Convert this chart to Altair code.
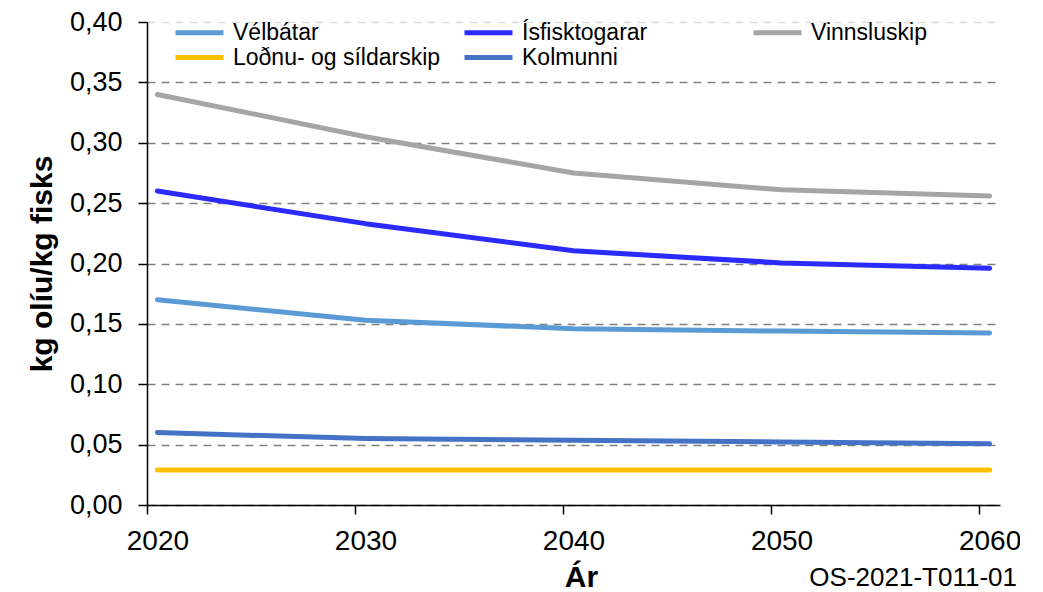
import altair as alt
import pandas as pd

# ---- data ----
years = [2020, 2030, 2040, 2050, 2060]
velbatar = [0.170, 0.153, 0.146, 0.144, 0.1425]
isfisktogarar = [0.260, 0.233, 0.2105, 0.2005, 0.196]
vinnsluskip = [0.340, 0.305, 0.275, 0.261, 0.256]
lodnu = [0.029, 0.029, 0.029, 0.029, 0.029]
kolmunni = [0.060, 0.055, 0.0536, 0.0522, 0.0508]

series_names = ["Vélbátar", "Ísfisktogarar", "Vinnsluskip", "Loðnu- og síldarskip", "Kolmunni"]
series_values = [velbatar, isfisktogarar, vinnsluskip, lodnu, kolmunni]
colors = ["#5B9BD5", "#2B2BFF", "#A5A5A5", "#FFC000", "#4472C4"]

y_ticks = [0.0, 0.05, 0.10, 0.15, 0.20, 0.25, 0.30, 0.35, 0.40]
x_ticks = [2020, 2030, 2040, 2050, 2060]
x_title = "Ár"
y_title = "kg olíu/kg fisks"
code_label = "OS-2021-T011-01"

rows = []
for name, vals in zip(series_names, series_values):
    for yr, v in zip(years, vals):
        rows.append({"series": name, "year": yr, "value": v, "order": series_names.index(name)})
df = pd.DataFrame(rows)

FONT = "Liberation Sans"
W, H = 853, 483
half_cat = W / 41 / 2

lines = alt.Chart(df).mark_line(strokeWidth=5, strokeCap="round", strokeJoin="round").encode(
    x=alt.X(
        "year:Q",
        scale=alt.Scale(domain=[2019.5, 2060.5], nice=False, zero=False),
        axis=alt.Axis(
            values=x_ticks, format="d", grid=False,
            tickSize=9, tickWidth=1.5, tickColor="black",
            domainColor="black", domainWidth=1.5,
            tickOffset=-half_cat, labelOffset=half_cat,
            labelFlush=False, labelOverlap=False,
            labelFontSize=28, labelColor="black", labelPadding=13,
            title=x_title, titleFontSize=30, titleFontWeight="bold", titleColor="black",
            titleX=434, titleY=72, titleBaseline="middle", titleAlign="center",
        ),
    ),
    y=alt.Y(
        "value:Q",
        scale=alt.Scale(domain=[0, 0.4], nice=False),
        axis=alt.Axis(
            values=y_ticks,
            labelExpr="replace(format(datum.value, '.2f'), '.', ',')",
            tickSize=9, tickWidth=1.5, tickColor="black",
            domainColor="black", domainWidth=1.5,
            labelFontSize=27, labelColor="black", labelPadding=16,
            grid=True, gridDash=[8, 6], gridWidth=1.5,
            gridColor={"condition": {"test": "datum.value >= 0.39", "value": "#dcdcdc"}, "value": "#808080"},
            title=y_title, titleFontSize=30, titleFontWeight="bold", titleColor="black",
            titleX=-105, titleY=H / 2, titleAngle=270, titleBaseline="middle", titleAlign="center",
        ),
    ),
    color=alt.Color(
        "series:N",
        sort=series_names,
        scale=alt.Scale(domain=series_names, range=colors),
        legend=alt.Legend(
            orient="none", legendX=26, legendY=-2, columns=3, direction="horizontal", title=None,
            symbolType="M-1,0H3.8", symbolSize=400, symbolStrokeWidth=5,
            labelFontSize=23, labelFont=FONT, labelColor="black", labelLimit=400,
            labelOffset=35, columnPadding=13, rowPadding=-1, gridAlign="all", padding=0,
        ),
    ),
    order=alt.Order("order:Q"),
    detail="series:N",
)

code_text = alt.Chart(pd.DataFrame({"t": [code_label]})).mark_text(
    align="right", baseline="middle", fontSize=26, font=FONT, color="black"
).encode(text="t:N", x=alt.value(1017 - 147), y=alt.value(578 - 22))

chart = alt.layer(lines, code_text).properties(
    width=W, height=H,
    autosize=alt.AutoSizeParams(type="none"),
    padding={"left": 139, "top": 14, "right": 20, "bottom": 86},
    background="white",
).configure(font=FONT).configure_view(stroke=None)

chart.save("out.html", embed_options={"renderer": "svg", "actions": False})
